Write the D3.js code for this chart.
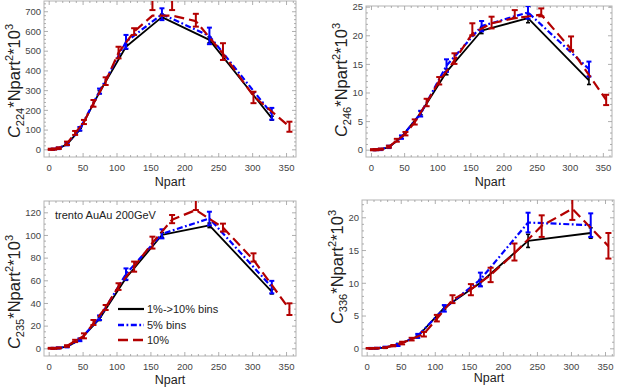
<!DOCTYPE html>
<html><head><meta charset="utf-8">
<script src="https://cdn.jsdelivr.net/npm/d3@7"></script>
<style>
body{margin:0;background:#fff}
text{font-family:"Liberation Sans",Arial,sans-serif}
</style></head>
<body><svg id="chart" width="623" height="388"></svg>
<script>
// ---------- data ----------
const xBins = [6, 14, 27, 46, 75, 114, 167, 237, 329];           // black & blue
const xRed  = [3, 8, 15, 27, 39, 52, 66, 84, 103, 126, 153, 182, 217, 257, 302, 355];
const xTicks = [0, 50, 100, 150, 200, 250, 300, 350];

// C224
const c224Black    = [0, 4, 25, 100, 290, 520, 670, 555, 158];
const c224BlackErr = [2, 3, 4, 6, 8, 12, 15, 15, 10];
const c224Blue     = [0, 5, 26, 104, 295, 545, 685, 575, 180];
const c224BlueErr  = [3, 4, 6, 9, 13, 35, 30, 42, 30];
const c224Red      = [0, 1, 6, 30, 82, 139, 233, 345, 490, 597, 678, 678, 650, 485, 270, 115];
const c224RedLo    = [-3, -2, 2, 22, 73, 128, 216, 326, 461, 580, 706, 706, 622, 453, 234, 89];
const c224RedHi    = [3, 4, 10, 39, 93, 149, 250, 365, 520, 614, 760, 760, 687, 538, 292, 140];
const c224Ticks    = [0, 100, 200, 300, 400, 500, 600, 700];

// C246
const c246Black    = [0, 0.05, 0.4, 2.2, 6.4, 13.6, 20.8, 23.0, 12.1];
const c246BlackErr = [0.08, 0.1, 0.15, 0.2, 0.3, 0.5, 0.5, 0.8, 0.7];
const c246Blue     = [0, 0.05, 0.5, 2.2, 6.3, 14.7, 21.6, 24.0, 14.1];
const c246BlueErr  = [0.1, 0.12, 0.2, 0.3, 0.5, 1.1, 0.9, 1.1, 1.3];
const c246Red      = [0, 0, 0.1, 0.5, 1.6, 2.8, 4.8, 8.2, 12.0, 15.6, 20.3, 22.1, 23.0, 23.6, 17.6, 8.7];
const c246RedLo    = [-0.1, -0.1, 0, 0.35, 1.4, 2.5, 4.4, 7.6, 11.4, 15.0, 20.0, 21.2, 23.0, 23.3, 17.4, 7.8];
const c246RedHi    = [0.1, 0.1, 0.2, 0.7, 1.9, 3.1, 5.3, 8.9, 12.7, 16.85, 22.1, 23.25, 24.4, 24.7, 19.8, 9.6];
const c246Ticks    = [0, 5, 10, 15, 20, 25];

// C235
const c235Black    = [0, 0.2, 1.5, 7.5, 26, 62, 100, 108.5, 50];
const c235BlackErr = [0.3, 0.3, 0.5, 1, 1.5, 2, 2, 2, 2];
const c235Blue     = [0, 0.3, 1.5, 7.5, 27, 65.5, 101, 114.5, 54];
const c235BlueErr  = [0.4, 0.5, 0.7, 1.2, 2, 5, 4, 6, 5.5];
const c235Red      = [0, 0, 0.3, 2, 6.5, 11, 22, 36, 54.5, 72, 93, 113.5, 122, 106.5, 78, 34.5];
const c235RedLo    = [-0.4, -0.4, -0.1, 1.3, 5.5, 8.8, 20.6, 33.8, 51.5, 67.6, 88, 110.4, 122, 103, 76.5, 29.4];
const c235RedHi    = [0.4, 0.4, 0.7, 2.7, 7.5, 13.2, 25, 38.2, 57.4, 76.5, 98.5, 117.6, 131, 110, 83.8, 39.7];
const c235Ticks    = [0, 20, 40, 60, 80, 100, 120];

// C336
const c336Black    = [0, 0, 0.1, 0.6, 1.8, 6.2, 10, 16.4, 17.6];
const c336BlackErr = [0.04, 0.05, 0.1, 0.15, 0.2, 0.3, 0.5, 1.0, 0.8];
const c336Blue     = [0, 0.02, 0.15, 0.5, 1.9, 6.1, 10.5, 19.2, 18.8];
const c336BlueErr  = [0.06, 0.06, 0.1, 0.15, 0.3, 0.5, 1.05, 1.5, 1.8];
const c336Red      = [0, 0, 0.02, 0.1, 0.4, 0.8, 1.4, 2.2, 4.5, 7.4, 9.0, 11.2, 14.5, 18.7, 21.3, 15.6];
const c336RedLo    = [-0.05, -0.05, -0.03, 0.05, 0.3, 0.6, 1.2, 1.8, 4.1, 6.9, 8.1, 10.1, 13.4, 17.0, 19.6, 13.7];
const c336RedHi    = [0.05, 0.05, 0.07, 0.15, 0.5, 1.0, 1.6, 2.5, 5.1, 8.1, 9.8, 12.3, 16.0, 20.3, 23.0, 17.6];
const c336Ticks    = [0, 5, 10, 15, 20];

const legendLabels = ["1%->10% bins", "5% bins", "10%"];
const annotation = "trento AuAu 200GeV";

// ---------- layout ----------
const svg = d3.select("#chart");
const colors = {black: "#000000", blue: "#0000ff", red: "#b30000"};
const FRAME = "#b4b4b4", TICK = "#9a9a9a", LABEL = "#444";

const panels = [
  {sub: "224", L: 44, R: 296, T: 1, B: 157, xd: [-6.92, 364.7], yd: [-39, 752], ticks: c224Ticks, minor: 20,
   black: c224Black, blackErr: c224BlackErr, blue: c224Blue, blueErr: c224BlueErr, red: c224Red, redLo: c224RedLo, redHi: c224RedHi,
   tx: 20, ty: 81, lx: 170, ly: 186, tickRight: 41},
  {sub: "246", L: 366, R: 612, T: 6, B: 157, xd: [-7.53, 363.8], yd: [-1.276, 25.12], ticks: c246Ticks, minor: 1,
   black: c246Black, blackErr: c246BlackErr, blue: c246Blue, blueErr: c246BlueErr, red: c246Red, redLo: c246RedLo, redHi: c246RedHi,
   tx: 347, ty: 80, lx: 490, ly: 186, tickRight: 363},
  {sub: "235", L: 44, R: 296, T: 201, B: 356, xd: [-6.92, 364.7], yd: [-6.79, 129.97], ticks: c235Ticks, minor: 5,
   black: c235Black, blackErr: c235BlackErr, blue: c235Blue, blueErr: c235BlueErr, red: c235Red, redLo: c235RedLo, redHi: c235RedHi,
   tx: 20, ty: 292, lx: 170, ly: 384, tickRight: 41, legend: true},
  {sub: "336", L: 362, R: 614, T: 200, B: 356, xd: [-6.9, 363.2], yd: [-1.176, 22.64], ticks: c336Ticks, minor: 1,
   black: c336Black, blackErr: c336BlackErr, blue: c336Blue, blueErr: c336BlueErr, red: c336Red, redLo: c336RedLo, redHi: c336RedHi,
   tx: 343, ty: 267, lx: 489, ly: 382, tickRight: 359}
];

function range(a, b, s){ const out=[]; for(let v=a; v<=b+1e-9; v+=s) out.push(+v.toFixed(6)); return out; }

panels.forEach((p, i) => {
  const x = d3.scaleLinear().domain(p.xd).range([p.L, p.R]);
  const y = d3.scaleLinear().domain(p.yd).range([p.B, p.T]);
  const g = svg.append("g");
  const clipId = "clip" + i;
  svg.append("clipPath").attr("id", clipId).append("rect")
    .attr("x", p.L).attr("y", p.T).attr("width", p.R - p.L).attr("height", p.B - p.T);

  // frame
  g.append("rect").attr("x", p.L).attr("y", p.T).attr("width", p.R - p.L).attr("height", p.B - p.T)
    .attr("fill", "none").attr("stroke", FRAME).attr("stroke-width", 1);

  const xMinor = range(0, 360, 10).filter(v => v % 50 !== 0);
  const yMinor = range(0, p.yd[1], p.minor).filter(v => !p.ticks.includes(v));

  function styleAxis(sel){
    sel.select(".domain").remove();
    sel.selectAll("line").attr("stroke", TICK).attr("stroke-width", 0.8);
    sel.selectAll("text").attr("fill", LABEL).attr("font-size", 9.5);
  }
  // bottom
  g.append("g").attr("transform", `translate(0,${p.B})`)
    .call(d3.axisBottom(x).tickValues(xTicks).tickSize(-4).tickPadding(7).tickFormat(d3.format("d")))
    .call(styleAxis);
  g.append("g").attr("transform", `translate(0,${p.B})`)
    .call(d3.axisBottom(x).tickValues(xMinor).tickSize(-2).tickFormat("")).call(styleAxis);
  // top
  g.append("g").attr("transform", `translate(0,${p.T})`)
    .call(d3.axisTop(x).tickValues(xTicks).tickSize(-4).tickFormat("")).call(styleAxis);
  g.append("g").attr("transform", `translate(0,${p.T})`)
    .call(d3.axisTop(x).tickValues(xMinor).tickSize(-2).tickFormat("")).call(styleAxis);
  // left
  const ya = g.append("g").attr("transform", `translate(${p.L},0)`)
    .call(d3.axisLeft(y).tickValues(p.ticks).tickSize(-4).tickPadding(p.L - p.tickRight).tickFormat(d3.format("d")))
    .call(styleAxis);
  ya.selectAll("text").attr("dy", "0.34em");
  g.append("g").attr("transform", `translate(${p.L},0)`)
    .call(d3.axisLeft(y).tickValues(yMinor).tickSize(-2).tickFormat("")).call(styleAxis);
  // right
  g.append("g").attr("transform", `translate(${p.R},0)`)
    .call(d3.axisRight(y).tickValues(p.ticks).tickSize(-4).tickFormat("")).call(styleAxis);
  g.append("g").attr("transform", `translate(${p.R},0)`)
    .call(d3.axisRight(y).tickValues(yMinor).tickSize(-2).tickFormat("")).call(styleAxis);

  // axis labels
  g.append("text").attr("x", p.lx).attr("y", p.ly).attr("text-anchor", "middle")
    .attr("font-size", 12.5).attr("fill", "#222").text("Npart");

  const t = g.append("text").attr("transform", `translate(${p.tx},${p.ty}) rotate(-90)`)
    .attr("text-anchor", "middle").attr("font-size", 16.5).attr("fill", "#222");
  t.append("tspan").attr("font-style", "italic").text("C");
  t.append("tspan").attr("font-size", 11).attr("dy", 4).text(p.sub);
  t.append("tspan").attr("dy", -4).text("*Npart");
  t.append("tspan").attr("font-size", 11).attr("dy", -7).text("2");
  t.append("tspan").attr("dy", 7).text("*10");
  t.append("tspan").attr("font-size", 11).attr("dy", -7).text("3");

  // data layer
  const d = g.append("g").attr("clip-path", `url(#${clipId})`);
  const line = d3.line().x(v => x(v[0])).y(v => y(v[1]));

  function drawSeries(xs, ys, lo, hi, color, width, dash, capW, barW){
    const pts = xs.map((xv, k) => [xv, ys[k]]);
    d.append("path").datum(pts).attr("d", line).attr("fill", "none")
      .attr("stroke", color).attr("stroke-width", width)
      .attr("stroke-dasharray", dash).attr("stroke-linejoin", "round");
    const eb = d.append("g").attr("stroke", color).attr("stroke-width", barW);
    xs.forEach((xv, k) => {
      const cx = x(xv), y0 = y(lo[k]), y1 = y(hi[k]);
      eb.append("line").attr("x1", cx).attr("x2", cx).attr("y1", y0).attr("y2", y1);
      eb.append("line").attr("x1", cx - capW/2).attr("x2", cx + capW/2).attr("y1", y0).attr("y2", y0);
      eb.append("line").attr("x1", cx - capW/2).attr("x2", cx + capW/2).attr("y1", y1).attr("y2", y1);
    });
  }
  drawSeries(xBins, p.black, p.black.map((v,k)=>v-p.blackErr[k]), p.black.map((v,k)=>v+p.blackErr[k]),
    colors.black, 1.8, null, 4, 1.6);
  drawSeries(xBins, p.blue, p.blue.map((v,k)=>v-p.blueErr[k]), p.blue.map((v,k)=>v+p.blueErr[k]),
    colors.blue, 2.2, "6,2.5,1.8,2.5", 5, 2);
  drawSeries(xRed, p.red, p.redLo, p.redHi, colors.red, 2.2, "10,5", 6, 2);

  if (p.legend) {
    g.append("text").attr("x", 55).attr("y", 219).attr("font-size", 11).attr("fill", "#222").text(annotation);
    const items = [
      {c: colors.black, dash: null, w: 2.2},
      {c: colors.blue, dash: "6,2.5,1.8,2.5", w: 2.4},
      {c: colors.red, dash: "10,5", w: 2.4}
    ];
    const ly = [309, 325, 340];
    items.forEach((it, k) => {
      g.append("line").attr("x1", 118).attr("x2", 144).attr("y1", ly[k]).attr("y2", ly[k])
        .attr("stroke", it.c).attr("stroke-width", it.w).attr("stroke-dasharray", it.dash);
      g.append("text").attr("x", 147).attr("y", ly[k] + 4).attr("font-size", 11).attr("fill", "#222")
        .text(legendLabels[k]);
    });
  }
});
</script></body></html>
